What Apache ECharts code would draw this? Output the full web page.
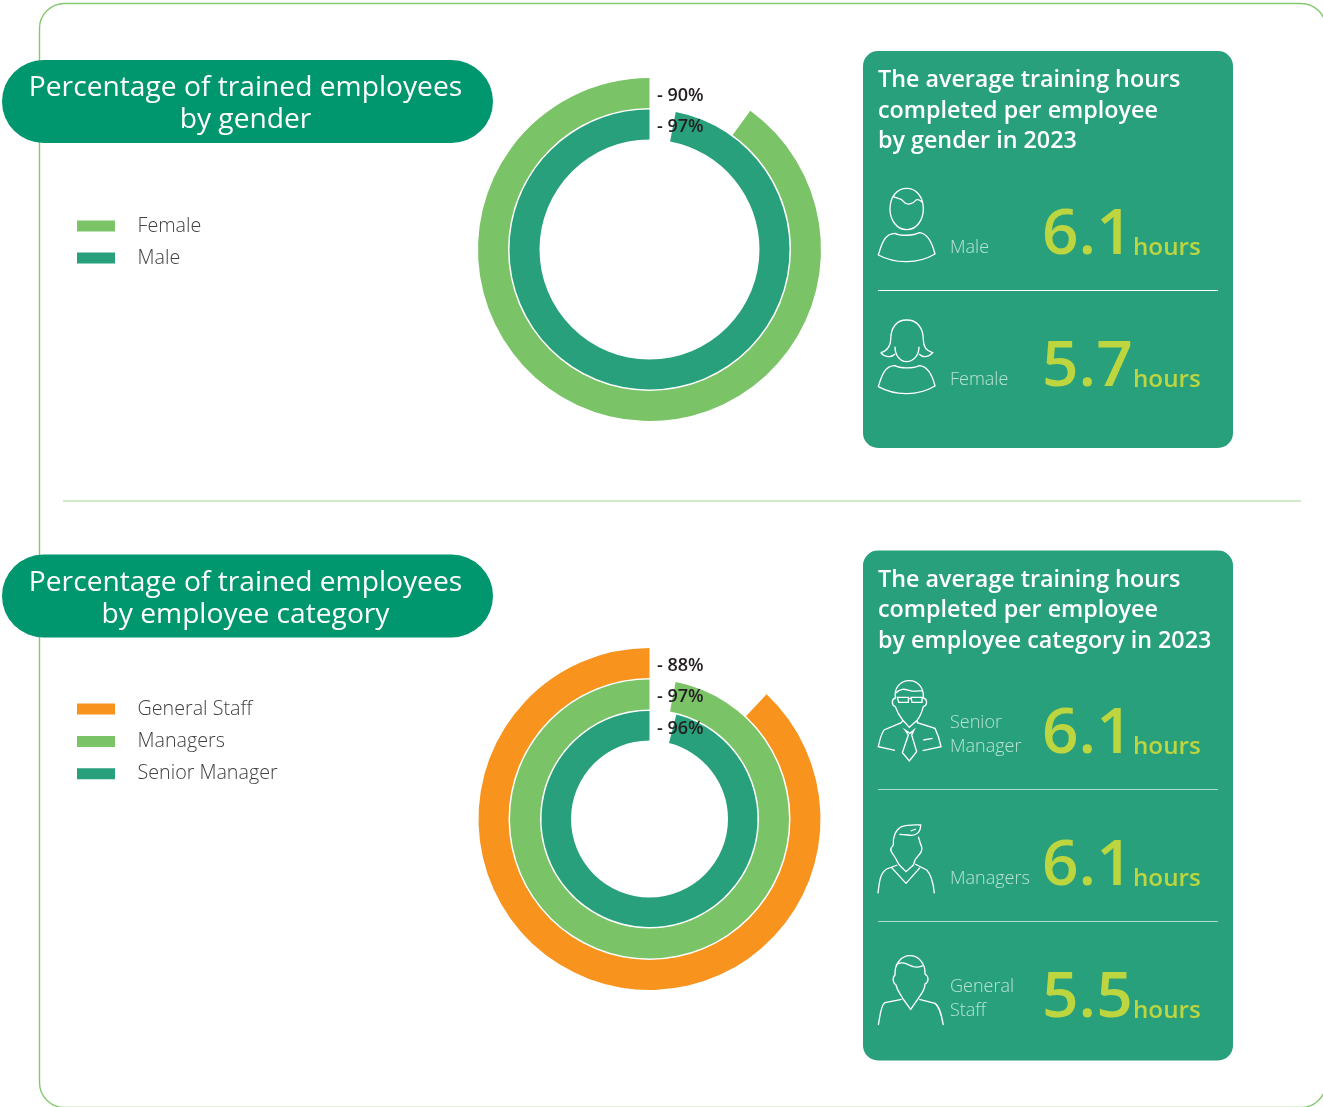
<!DOCTYPE html>
<html>
<head>
<meta charset="utf-8">
<title>Employee training</title>
<style>html,body{margin:0;padding:0;background:#fff}#main{width:1323px;height:1107px}</style>
<script src="https://cdn.jsdelivr.net/npm/echarts@6/dist/echarts.min.js"></script>
</head>
<body>
<div id="main"></div>
<script>
// Share of employees trained
const genderNames = ['Female', 'Male'];
const genderTrained = [90, 97];
const categoryNames = ['General Staff', 'Managers', 'Senior Manager'];
const categoryTrained = [88, 97, 96];

// Average training hours in 2023
const genderHoursLabels = [['Male'], ['Female']];
const genderHours = ['6.1', '5.7'];
const categoryHoursLabels = [['Senior', 'Manager'], ['Managers'], ['General', 'Staff']];
const categoryHours = ['6.1', '6.1', '5.5'];

const genderColors = ['#7bc367', '#28a07c'];
const categoryColors = ['#f8931d', '#7bc367', '#28a07c'];
const FONT = '"Open Sans", sans-serif';

// Line-art people, drawn on a 3x grid and scaled down when placed
const iconMale = 'M90,117C90,80 112,55 140,55C168,55 190,80 190,117C190,152 168,179 140,179C112,179 90,152 90,117Z' +
  'M100,80C110,86 124,84 130,94C140,108 160,102 168,90C175,87 182,92 187,97' +
  'M55,255C65,220 75,190 105,190C120,198 160,198 178,188C205,190 218,225 225,252C175,282 105,282 55,255Z';
const iconFemale = 'M62,548C85,542 92,522 92,510C92,472 110,450 140,450C170,450 190,472 190,510C190,524 196,542 218,548C206,562 188,564 177,552' +
  'M62,548C74,562 94,564 105,552M105,530C105,556 120,575 140,575C160,575 177,556 177,530' +
  'M55,650C65,615 75,587 105,587C120,596 160,596 178,587C205,589 218,620 225,648C175,678 105,678 55,650Z';
const iconSenior = 'M106,84C94,88 94,106 106,110C112,128 120,140 128,150L148,172L172,150C180,140 186,125 190,110C203,106 203,88 190,84C192,55 175,32 148,32C120,32 102,55 106,84Z' +
  'M106,70C125,50 140,60 150,62C165,66 178,62 188,62M112,82H145V97H116ZM153,82H186V97H156ZM145,86H153' +
  'M128,152L124,158L72,180C62,195 58,215 55,230L105,241M172,152V158L225,175C235,195 240,215 243,230L188,242' +
  'M135,180L150,190L162,180L155,195L170,245L148,273L127,248L145,195ZM190,210L218,205';
const iconManager = 'M100,525C96,532 88,535 94,545C100,555 108,565 112,575L118,585L138,605L160,585L165,570C175,555 190,545 185,530C180,520 180,515 175,500' +
  'M100,525C98,505 105,480 125,470C145,463 165,465 182,465C182,485 170,500 145,495L118,493M152,483L168,477' +
  'M54,670C58,635 60,610 80,597L112,585M95,593L138,640L180,593M165,582L200,600C215,615 220,640 223,670';
const iconGeneral = 'M105,915C95,925 100,940 108,945C112,965 125,975 128,985L152,1018L175,985C185,970 195,960 195,942C207,935 207,920 195,912C197,880 175,857 150,857C125,857 103,880 105,915Z' +
  'M108,885C125,870 145,885 160,890C170,893 185,890 192,885' +
  'M55,1065C60,1040 62,1005 75,998L125,988M178,988L225,1000C240,1010 245,1040 250,1065';
const iconPlacements = [
  [iconMale, 860, 170], [iconFemale, 860, 170],
  [iconSenior, 860, 670], [iconManager, 860, 670], [iconGeneral, 860, 670]
];

function txt(x, y, text, fontSize, fill, fontWeight, align) {
  return { type: 'text', x: x, y: y, silent: true,
    style: { text: text, font: (fontWeight || 400) + ' ' + fontSize + 'px ' + FONT, fill: fill, align: align || 'left', verticalAlign: 'middle' } };
}
function rect(x, y, w, h, r, fill, stroke) {
  return { type: 'rect', silent: true, shape: { x: x, y: y, width: w, height: h, r: r },
    style: { fill: fill || 'none', stroke: stroke || 'none', lineWidth: stroke ? 1.4 : 0 } };
}
function line(x1, x2, y, color) {
  return { type: 'line', silent: true, shape: { x1: x1, y1: y, x2: x2, y2: y }, style: { stroke: color, lineWidth: 1 } };
}

// One pie per ring: an empty wedge first, then the trained share running back round to twelve o'clock
function ring(name, value, color, centerY, rInner, rOuter) {
  return {
    type: 'pie', name: name, center: [649.5, centerY], radius: [rInner, rOuter], startAngle: 90, clockwise: true,
    silent: true, animation: false, label: { show: false }, labelLine: { show: false },
    data: [
      { name: 'rest', value: 100 - value, itemStyle: { color: 'rgba(0,0,0,0)' } },
      { name: name, value: value, itemStyle: { color: color } }
    ]
  };
}

const genderRadii = [[141.5, 171.5], [110, 140]];
const categoryRadii = [[141, 171], [109.5, 139.5], [78.5, 108]];
const series = [];
genderNames.forEach((n, i) => series.push(ring(n, genderTrained[i], genderColors[i], 249.5, genderRadii[i][0], genderRadii[i][1])));
categoryNames.forEach((n, i) => series.push(ring(n, categoryTrained[i], categoryColors[i], 819, categoryRadii[i][0], categoryRadii[i][1])));

// The icons go on a custom series, the one place that accepts free SVG paths
series.push({
  type: 'custom', coordinateSystem: 'none', z: 200, silent: true, animation: false,
  data: iconPlacements.map((_, i) => [i]),
  renderItem: function (params) {
    const p = iconPlacements[params.dataIndex];
    return { type: 'path', x: p[1], y: p[2], scaleX: 1 / 3, scaleY: 1 / 3,
      shape: { pathData: p[0] }, style: { fill: 'none', stroke: '#ffffff', lineWidth: 4 } };
  }
});

// Ring values sit just right of twelve o'clock, over the empty wedges
function valueLabels(values, top, step) {
  return {
    type: 'custom', coordinateSystem: 'none', z: 200, silent: true, animation: false,
    data: values.map(v => [v]),
    renderItem: function (params, api) {
      return txt(657, top + params.dataIndex * step, '- ' + api.value(0) + '%', 18, '#231f20', 600);
    }
  };
}
series.push(valueLabels(genderTrained, 95.5, 31));
series.push(valueLabels(categoryTrained, 665.5, 31.5));

const els = [];
const PANEL = '#28a07c', PILL = '#00966e', FRAME = '#84c96f', LIME = '#bdd63f', SOFT = '#b9e2d3';

// Outer frame runs off the right and bottom edges of the page
els.push(rect(39.5, 3.5, 1286.5, 1104, 25, null, FRAME));
els.push(line(63, 1301, 501, '#9fd68d'));

function pill(y, lines) {
  els.push(rect(2, y, 491, 83, 41.5, PILL));
  els.push(txt(245.5, y + 28, lines[0], 28.2, '#ffffff', 400, 'center'));
  els.push(txt(245.5, y + 60, lines[1], 28.2, '#ffffff', 400, 'center'));
}
pill(60, ['Percentage of trained employees', 'by gender']);
pill(554.5, ['Percentage of trained employees', 'by employee category']);

function panel(y, h, heading) {
  els.push(rect(863, y, 370, h, 15, PANEL));
  heading.forEach((t, i) => els.push(txt(878, y + 29.5 + i * 30.5, t, 23.3, '#ffffff', 600)));
}
panel(51, 397, ['The average training hours', 'completed per employee', 'by gender in 2023']);
panel(550.5, 510, ['The average training hours', 'completed per employee', 'by employee category in 2023']);

function hoursRow(labelLines, value, valueY) {
  const firstY = labelLines.length > 1 ? valueY + 17 - 24 : valueY + 17;
  labelLines.forEach((t, i) => els.push(txt(950, firstY + i * 24, t, 18, SOFT, 300)));
  els.push(txt(1042, valueY + 5, value, 64, LIME, 600));
  els.push(txt(1133, valueY + 17, 'hours', 24.2, LIME, 600));
}
hoursRow(genderHoursLabels[0], genderHours[0], 231);
hoursRow(genderHoursLabels[1], genderHours[1], 363);
hoursRow(categoryHoursLabels[0], categoryHours[0], 730);
hoursRow(categoryHoursLabels[1], categoryHours[1], 862);
hoursRow(categoryHoursLabels[2], categoryHours[2], 994);

els.push(line(878, 1218, 290.5, '#ffffff'));
els.push(line(878, 1218, 789.5, '#b0dccb'));
els.push(line(878, 1218, 921.5, '#b0dccb'));

function legend(names, colors, top, gap) {
  return {
    orient: 'vertical', left: 77, top: top, padding: 0, itemWidth: 38, itemHeight: 11, itemGap: gap, icon: 'rect', selectedMode: false,
    data: names.map((n, i) => ({ name: n, itemStyle: { color: colors[i] } })),
    textStyle: { fontFamily: FONT, fontSize: 19.7, fontWeight: 300, color: '#414042', padding: [0, 0, 0, 17.5], lineHeight: 26 }
  };
}

const chart = echarts.init(document.getElementById('main'));
chart.setOption({
  animation: false,
  backgroundColor: '#ffffff',
  tooltip: { show: false },
  legend: [legend(genderNames, genderColors, 213, 6), legend(categoryNames, categoryColors, 696, 6.4)],
  graphic: { elements: els },
  series: series
});
</script>
</body>
</html>
